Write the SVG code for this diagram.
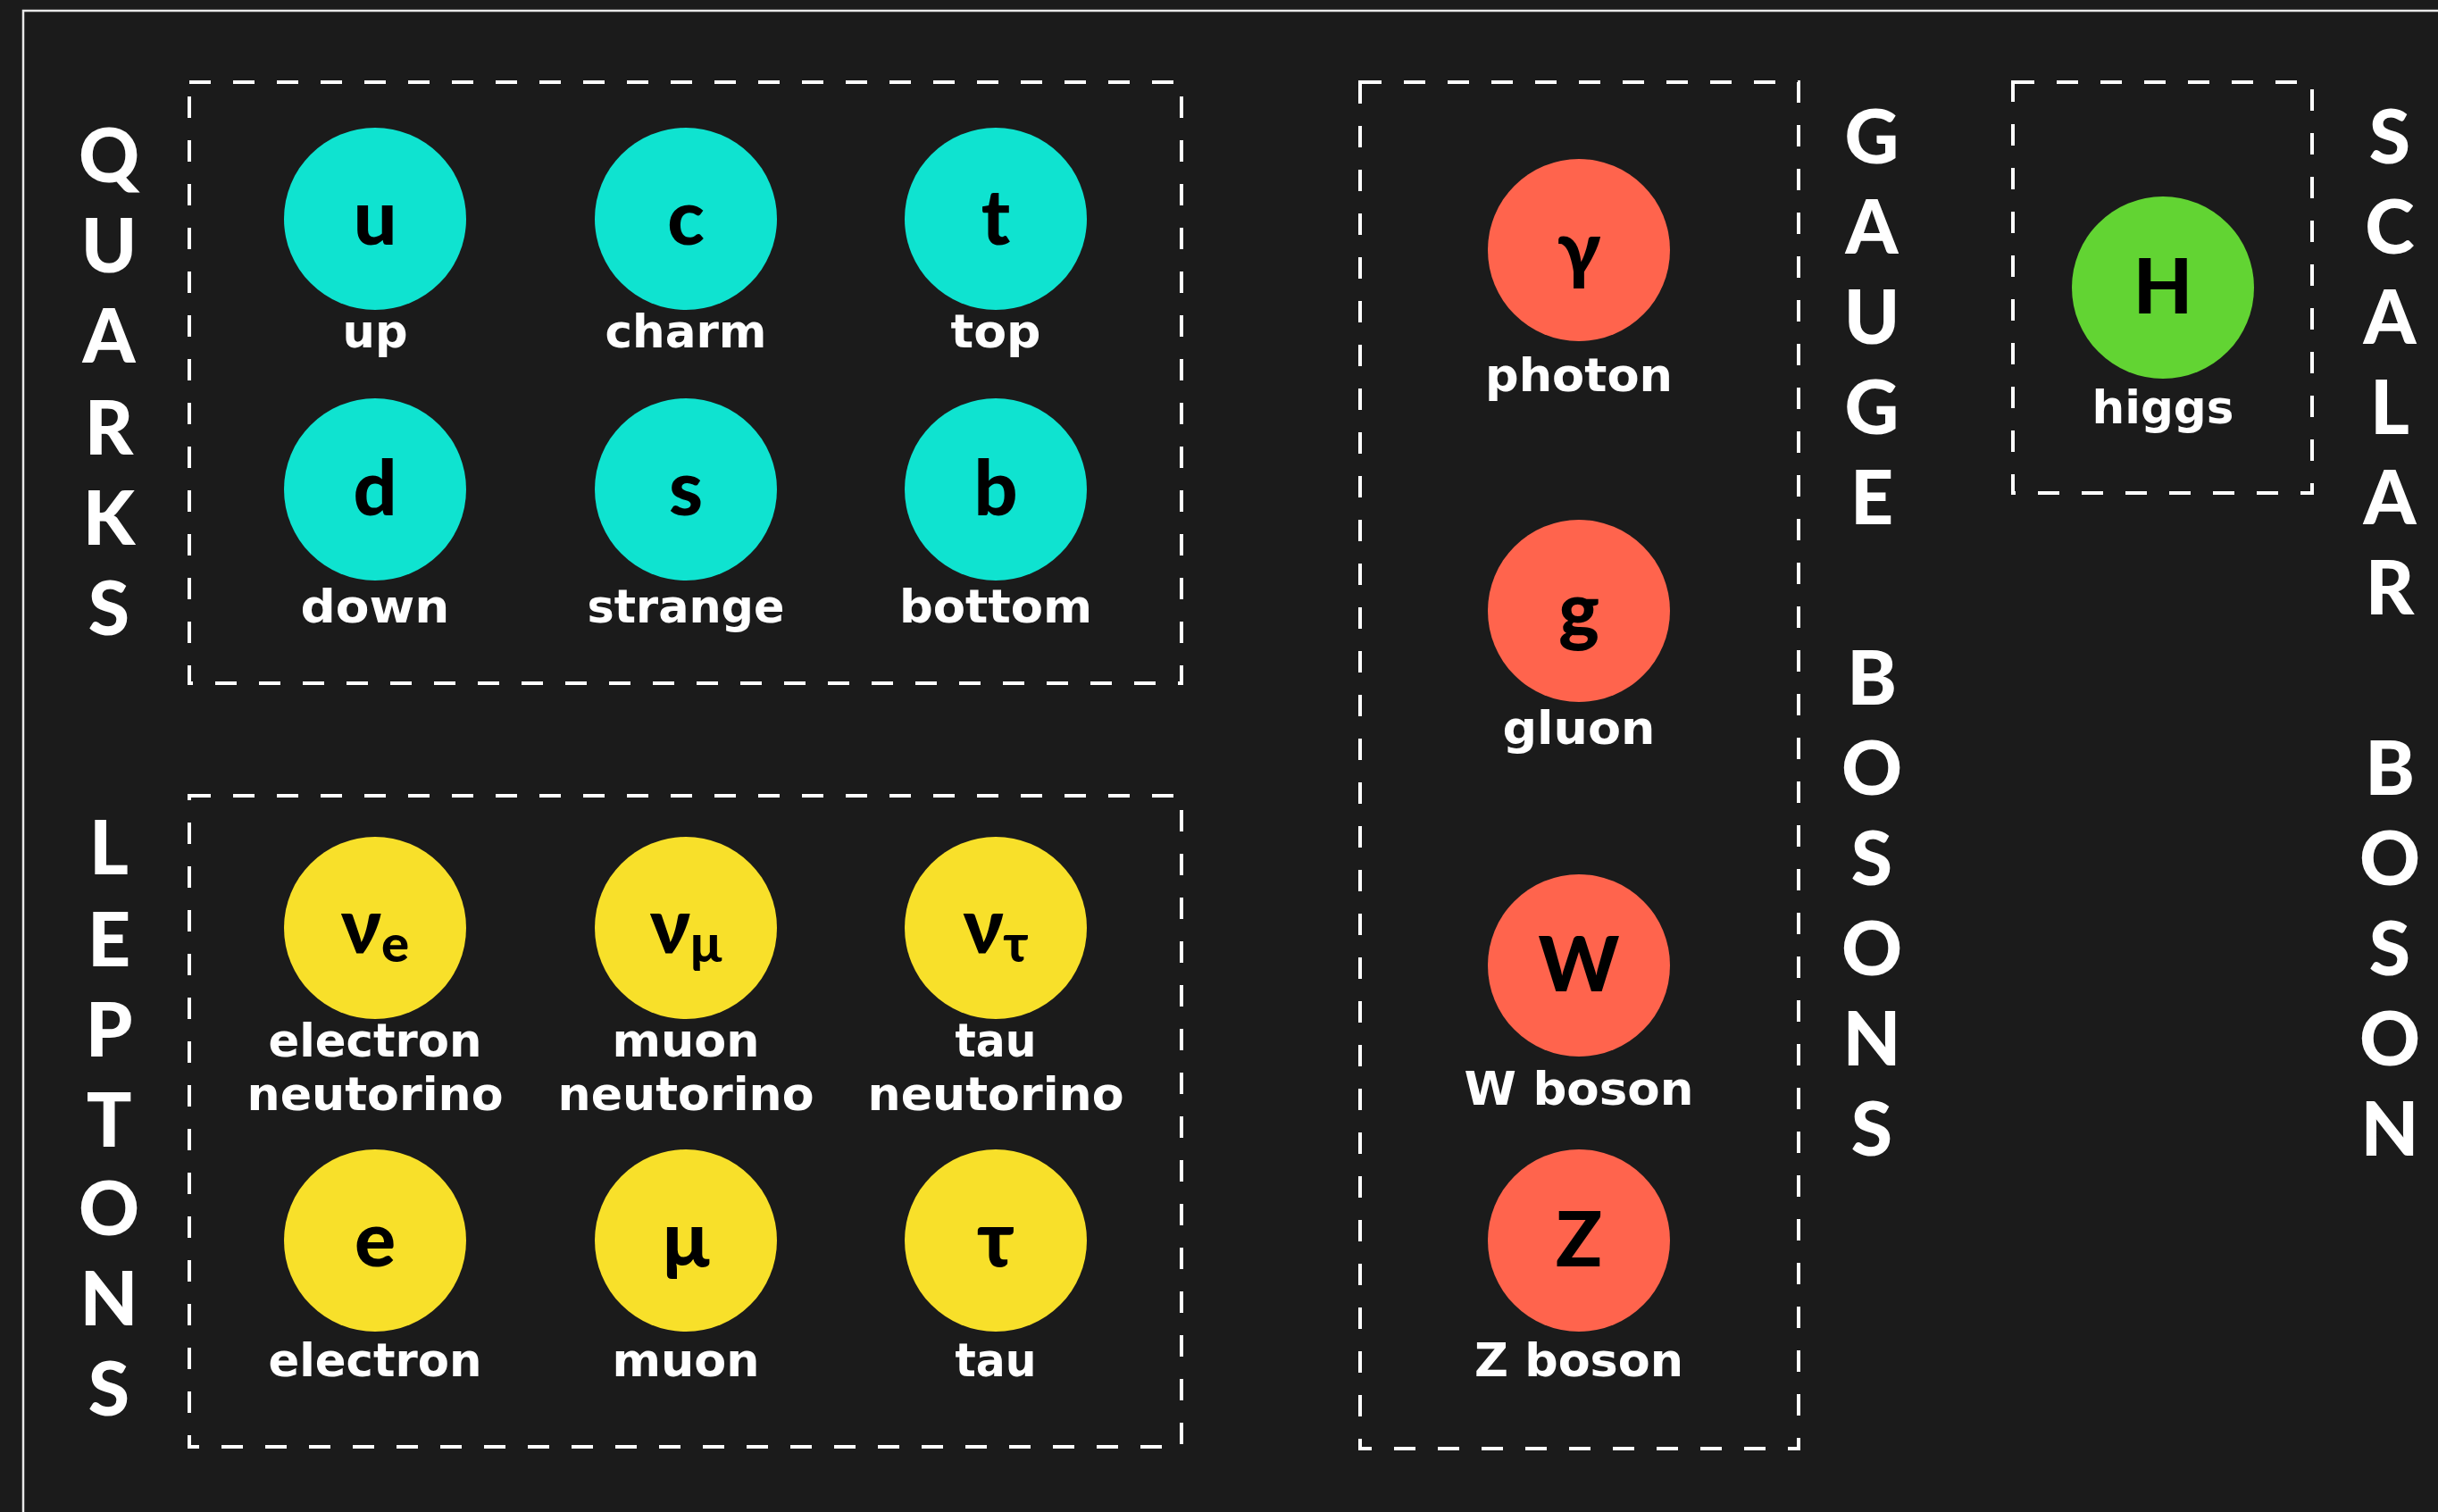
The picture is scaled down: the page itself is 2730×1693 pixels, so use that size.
<svg xmlns="http://www.w3.org/2000/svg" width="2730" height="1693" viewBox="0 0 2730 1693">
<style>
.box{fill:none;stroke:#ffffff;stroke-width:4;stroke-dasharray:24 25}
.q{fill:#0fe3d0}
.l{fill:#f8e02a}
.g{fill:#ff644d}
.h{fill:#62d433}
.sym{font-family:Lato,"Noto Sans",sans-serif;font-weight:900;font-size:86px;fill:#000;text-anchor:middle}
.lab{font-family:"DejaVu Sans",Lato,sans-serif;font-weight:700;font-size:51px;fill:#fff;text-anchor:middle}
.vert{font-family:Lato,"Noto Sans",sans-serif;font-weight:900;font-size:84px;fill:#fff;text-anchor:middle}
</style>
<rect x="0" y="0" width="2730" height="1693" fill="#1b1b1b"/>
<rect x="26" y="12" width="2800" height="1800" fill="none" stroke="#e8e8e8" stroke-width="2.5"/>

<g id="group-boxes">
<rect id="box-quarks" class="box" x="212" y="92" width="1111" height="673"/>
<rect id="box-leptons" class="box" x="212" y="891" width="1111" height="729"/>
<rect id="box-gauge" class="box" x="1523" y="92" width="491" height="1530"/>
<rect id="box-scalar" class="box" x="2254" y="92" width="335" height="460"/>
</g>

<g id="group-titles">
<text id="title-quarks" class="vert"><tspan x="122" y="204">Q</tspan><tspan x="122" y="305">U</tspan><tspan x="122" y="406">A</tspan><tspan x="122" y="509">R</tspan><tspan x="122" y="610">K</tspan><tspan x="122" y="711">S</tspan></text>
<text id="title-leptons" class="vert"><tspan x="122" y="979">L</tspan><tspan x="122" y="1082">E</tspan><tspan x="122" y="1183">P</tspan><tspan x="122" y="1284">T</tspan><tspan x="122" y="1383">O</tspan><tspan x="122" y="1484">N</tspan><tspan x="122" y="1585">S</tspan></text>
<text id="title-gauge" class="vert"><tspan x="2096" y="183">G</tspan><tspan x="2096" y="284">A</tspan><tspan x="2096" y="385">U</tspan><tspan x="2096" y="486">G</tspan><tspan x="2096" y="587">E</tspan><tspan x="2096" y="789">B</tspan><tspan x="2096" y="890">O</tspan><tspan x="2096" y="991">S</tspan><tspan x="2096" y="1092">O</tspan><tspan x="2096" y="1193">N</tspan><tspan x="2096" y="1294">S</tspan></text>
<text id="title-scalar" class="vert"><tspan x="2676" y="183">S</tspan><tspan x="2676" y="284">C</tspan><tspan x="2676" y="385">A</tspan><tspan x="2676" y="486">L</tspan><tspan x="2676" y="587">A</tspan><tspan x="2676" y="688">R</tspan><tspan x="2676" y="890">B</tspan><tspan x="2676" y="991">O</tspan><tspan x="2676" y="1092">S</tspan><tspan x="2676" y="1193">O</tspan><tspan x="2676" y="1294">N</tspan></text>
</g>

<g id="node-up"><circle class="q" cx="420" cy="245" r="102"/><text class="sym" x="420" y="274">u</text><text class="lab" x="420" y="389" textLength="73" lengthAdjust="spacingAndGlyphs">up</text></g>
<g id="node-charm"><circle class="q" cx="768" cy="245" r="102"/><text class="sym" x="768" y="274">c</text><text class="lab" x="768" y="389" textLength="181" lengthAdjust="spacingAndGlyphs">charm</text></g>
<g id="node-top"><circle class="q" cx="1115" cy="245" r="102"/><text class="sym" x="1115" y="274">t</text><text class="lab" x="1115" y="389" textLength="101" lengthAdjust="spacingAndGlyphs">top</text></g>
<g id="node-down"><circle class="q" cx="420" cy="548" r="102"/><text class="sym" x="420" y="577">d</text><text class="lab" x="420" y="697" textLength="167" lengthAdjust="spacingAndGlyphs">down</text></g>
<g id="node-strange"><circle class="q" cx="768" cy="548" r="102"/><text class="sym" x="768" y="577">s</text><text class="lab" x="768" y="697" textLength="221" lengthAdjust="spacingAndGlyphs">strange</text></g>
<g id="node-bottom"><circle class="q" cx="1115" cy="548" r="102"/><text class="sym" x="1115" y="577">b</text><text class="lab" x="1115" y="697" textLength="216" lengthAdjust="spacingAndGlyphs">bottom</text></g>

<g id="node-electron-neutrino"><circle class="l" cx="420" cy="1039" r="102"/><text class="sym" x="420" y="1067">ν<tspan font-size="58" dy="10">e</tspan></text><text class="lab" x="420" y="1183" textLength="239" lengthAdjust="spacingAndGlyphs">electron</text><text class="lab" x="420" y="1243" textLength="287" lengthAdjust="spacingAndGlyphs">neutorino</text></g>
<g id="node-muon-neutrino"><circle class="l" cx="768" cy="1039" r="102"/><text class="sym" x="768" y="1067">ν<tspan font-size="58" dy="10">μ</tspan></text><text class="lab" x="768" y="1183" textLength="165" lengthAdjust="spacingAndGlyphs">muon</text><text class="lab" x="768" y="1243" textLength="287" lengthAdjust="spacingAndGlyphs">neutorino</text></g>
<g id="node-tau-neutrino"><circle class="l" cx="1115" cy="1039" r="102"/><text class="sym" x="1115" y="1067">ν<tspan font-size="58" dy="10">τ</tspan></text><text class="lab" x="1115" y="1183" textLength="91" lengthAdjust="spacingAndGlyphs">tau</text><text class="lab" x="1115" y="1243" textLength="287" lengthAdjust="spacingAndGlyphs">neutorino</text></g>
<g id="node-electron"><circle class="l" cx="420" cy="1389" r="102"/><text class="sym" x="420" y="1418">e</text><text class="lab" x="420" y="1541" textLength="239" lengthAdjust="spacingAndGlyphs">electron</text></g>
<g id="node-muon"><circle class="l" cx="768" cy="1389" r="102"/><text class="sym" x="768" y="1418">μ</text><text class="lab" x="768" y="1541" textLength="165" lengthAdjust="spacingAndGlyphs">muon</text></g>
<g id="node-tau"><circle class="l" cx="1115" cy="1389" r="102"/><text class="sym" x="1115" y="1418">τ</text><text class="lab" x="1115" y="1541" textLength="91" lengthAdjust="spacingAndGlyphs">tau</text></g>

<g id="node-photon"><circle class="g" cx="1768" cy="280" r="102"/><text class="sym" x="1768" y="309">γ</text><text class="lab" x="1768" y="438" textLength="210" lengthAdjust="spacingAndGlyphs">photon</text></g>
<g id="node-gluon"><circle class="g" cx="1768" cy="684" r="102"/><text class="sym" x="1768" y="713">g</text><text class="lab" x="1768" y="833" textLength="171" lengthAdjust="spacingAndGlyphs">gluon</text></g>
<g id="node-w-boson"><circle class="g" cx="1768" cy="1081" r="102"/><text class="sym" x="1768" y="1110">W</text><text class="lab" x="1768" y="1237" textLength="257" lengthAdjust="spacingAndGlyphs">W boson</text></g>
<g id="node-z-boson"><circle class="g" cx="1768" cy="1389" r="102"/><text class="sym" x="1768" y="1418">Z</text><text class="lab" x="1768" y="1541" textLength="234" lengthAdjust="spacingAndGlyphs">Z boson</text></g>

<g id="node-higgs"><circle class="h" cx="2422" cy="322" r="102"/><text class="sym" x="2422" y="351">H</text><text class="lab" x="2422" y="474" textLength="159" lengthAdjust="spacingAndGlyphs">higgs</text></g>

<g id="connectors"/>
</svg>
